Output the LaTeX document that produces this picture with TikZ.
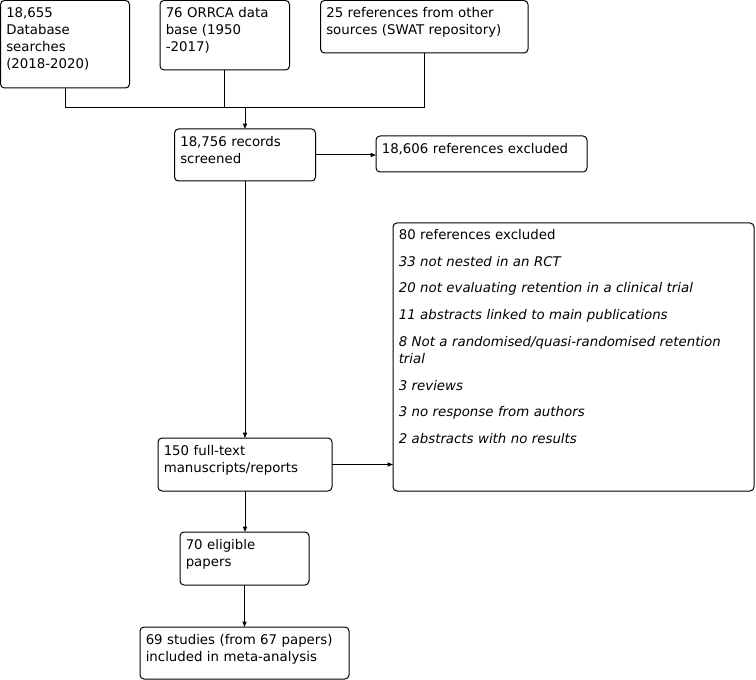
\documentclass[tikz,border=0pt]{standalone}
\usepackage{fontspec}
\setmainfont{DejaVu Sans}
\usetikzlibrary{fit,arrows.meta}
\begin{document}
\begin{tikzpicture}[x=0.75pt,y=-0.75pt,
  box/.style={draw,line width=0.75pt,rounded corners=3pt,inner sep=0pt,outer sep=0pt},
  txt/.style={inner sep=0pt,anchor=base west,text width=300pt,align=left,
    font=\fontsize{10}{12.75}\selectfont},
  conn/.style={line width=0.75pt},
  arr/.style={line width=0.75pt,-{Triangle[length=4pt,width=3pt]}}]
\useasboundingbox (0,0) rectangle (756,680);
\node[box,fit={(0.5,0.5) (129.5,88)}] (A) {};
\node[box,fit={(160,0.5) (289.5,70)}] (B) {};
\node[box,fit={(320.5,0.5) (528,53)}] (C) {};
\node[box,fit={(174.5,129) (315.5,181)}] (D) {};
\node[box,fit={(376,136) (587,172)}] (E) {};
\node[box,fit={(393,223) (754,491)}] (F) {};
\node[box,fit={(158,438) (332,491)}] (G) {};
\node[box,fit={(180,532) (309,585)}] (H) {};
\node[box,fit={(140,627) (349,679)}] (I) {};
\node[txt] (tA) at ([shift={(5.5,17.5)}]A.north west) {18,655\\Database\\searches\\(2018-2020)};
\node[txt] (tB) at ([shift={(5.5,17.5)}]B.north west) {76 ORRCA data\\base (1950\\-2017)};
\node[txt] (tC) at ([shift={(5.5,17.5)}]C.north west) {25 references from other\\sources (SWAT repository)};
\node[txt] (tD) at ([shift={(5.5,17.5)}]D.north west) {18,756 records\\screened};
\node[txt] (tE) at ([shift={(5.5,17.5)}]E.north west) {18,606 references excluded};
\node[txt] (tF) at ([shift={(5.5,16.5)}]F.north west) {80 references excluded\\[7.3pt]
\itshape 33 not nested in an RCT\\[7.3pt]
\itshape 20 not evaluating retention in a clinical trial\\[7.3pt]
\itshape 11 abstracts linked to main publications\\[7.3pt]
\itshape 8 Not a randomised/quasi-randomised retention\\
\itshape trial\\[7.3pt]
\itshape 3 reviews\\[7.3pt]
\itshape 3 no response from authors\\[7.3pt]
\itshape 2 abstracts with no results};
\node[txt] (tG) at ([shift={(5.5,17.5)}]G.north west) {150 full-text\\manuscripts/reports};
\node[txt] (tH) at ([shift={(5.5,17.5)}]H.north west) {70 eligible\\papers};
\node[txt] (tI) at ([shift={(5.5,17.5)}]I.north west) {69 studies (from 67 papers)\\included in meta-analysis};
\coordinate (J) at (245,108);
\draw[conn] (A.south) |- (C.south |- J) -- (C.south);
\draw[conn] (B.south) -- (B.south |- J);
\draw[arr] (J) -- (J |- D.north);
\draw[arr] (D.east) -- (E.west |- D.east);
\draw[arr] (J |- D.south) -- (J |- G.north);
\draw[arr] (G.east) -- (F.west |- G.east);
\draw[arr] (G.south) -- (G.south |- H.north);
\draw[arr] (H.south) -- (H.south |- I.north);
\end{tikzpicture}
\end{document}
